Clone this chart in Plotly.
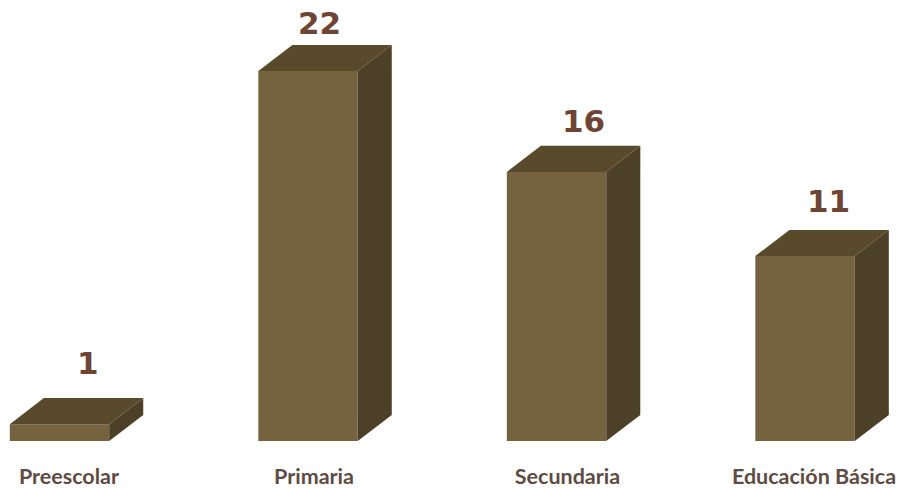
import plotly.graph_objects as go

# Number of cases per education level
categories = ["Preescolar", "Primaria", "Secundaria", "Educación Básica"]
values = [1, 22, 16, 11]

# Styling of the extruded columns
FRONT = "#75633f"
TOP = "#5a4a2c"
SIDE = "#4d4029"
VALUE_COLOR = "#6e4434"
LABEL_COLOR = "#5e4b43"
BAR_WIDTH = 0.4
DEPTH_X = 0.137   # extrusion, in category units
DEPTH_Y = 1.55    # extrusion, in value units
value_dx = [28, 11, 27, 23]      # horizontal nudge of each value label, px
value_dy = [35, 22, 25, 29]      # gap above the back edge, px
label_nudge = [0.038, 0.024, 0.044, 0.036]

positions = list(range(len(categories)))
fig = go.Figure()

# Front faces
fig.add_trace(go.Bar(
    x=positions, y=values, width=BAR_WIDTH,
    marker=dict(color=FRONT, line=dict(width=0)),
    hoverinfo="skip",
))

# Top and side faces, derived from each value
for p, v in zip(positions, values):
    l, r = p - BAR_WIDTH / 2, p + BAR_WIDTH / 2
    fig.add_trace(go.Scatter(
        x=[l, r, r + DEPTH_X, l + DEPTH_X, l],
        y=[v, v, v + DEPTH_Y, v + DEPTH_Y, v],
        fill="toself", fillcolor=TOP, mode="lines",
        line=dict(width=0, color=TOP), hoverinfo="skip",
    ))
    fig.add_trace(go.Scatter(
        x=[r, r + DEPTH_X, r + DEPTH_X, r, r],
        y=[0, DEPTH_Y, v + DEPTH_Y, v, 0],
        fill="toself", fillcolor=SIDE, mode="lines",
        line=dict(width=0, color=SIDE), hoverinfo="skip",
    ))

# Value labels above each column
for p, v, dx, dy in zip(positions, values, value_dx, value_dy):
    fig.add_annotation(
        x=p, y=v + DEPTH_Y, text=str(v), showarrow=False,
        xshift=dx, yshift=dy, yanchor="middle",
        font=dict(family="DejaVu Sans", size=31, color=VALUE_COLOR, weight="bold"),
    )

fig.update_layout(
    width=899, height=488, showlegend=False,
    margin=dict(l=0, r=0, t=0, b=47, autoexpand=False),
    paper_bgcolor="white", plot_bgcolor="white",
    xaxis=dict(
        range=[-0.2394, 3.378], showgrid=False, zeroline=False, showline=False,
        automargin=False,
        tickmode="array",
        tickvals=[p + n for p, n in zip(positions, label_nudge)],
        ticktext=categories, ticks="", ticklabelstandoff=20,
        tickfont=dict(family="Lato", size=21.5, color=LABEL_COLOR, weight="bold"),
    ),
    yaxis=dict(range=[0, 26.22], visible=False),
)

fig.write_html("out.html", config={"displayModeBar": False})
